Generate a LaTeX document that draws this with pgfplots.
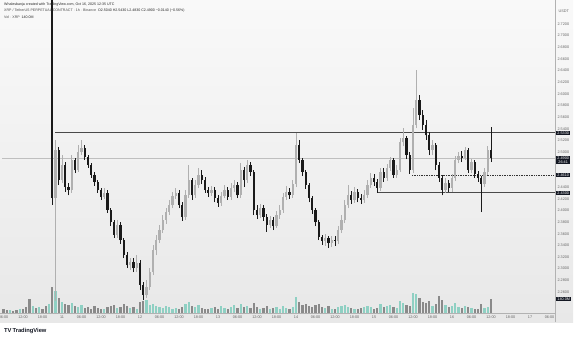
\documentclass[border=0pt]{standalone}
\usepackage{fontspec}
\setmainfont{Liberation Sans}
\usepackage{pgfplots}
\usepackage{pgfplotstable}
\pgfplotsset{compat=1.18}
\usetikzlibrary{backgrounds}
\definecolor{upc}{HTML}{B0B0B0}
\definecolor{dnc}{HTML}{1A1A1A}
\definecolor{vup}{HTML}{8FD0C3}
\definecolor{vdn}{HTML}{8A8A8A}
\definecolor{tvdark}{HTML}{131722}
\definecolor{lvl}{HTML}{4A4A4A}

\pgfplotstableread{
t o h l c v
6 2.850 2.856 2.842 2.846 40
7 2.846 2.852 2.838 2.842 30
8 2.842 2.850 2.836 2.848 35
9 2.848 2.853 2.839 2.840 25
10 2.840 2.846 2.830 2.835 30
11 2.835 2.844 2.829 2.841 45
12 2.841 2.845 2.825 2.828 40
13 2.828 2.834 2.812 2.818 60
14 2.818 2.822 2.790 2.800 140
15 2.800 2.815 2.795 2.810 70
16 2.810 2.818 2.800 2.805 50
17 2.805 2.812 2.796 2.808 60
18 2.808 2.812 2.795 2.799 45
19 2.799 2.804 2.780 2.786 70
20 2.786 2.800 2.770 2.795 90
21 2.795 2.800 2.410 2.421 260
22 2.421 2.521 2.245 2.504 220
23 2.504 2.509 2.444 2.452 150
24 2.452 2.495 2.447 2.478 110
25 2.478 2.483 2.432 2.440 90
26 2.440 2.447 2.426 2.435 80
27 2.435 2.495 2.430 2.487 100
28 2.487 2.490 2.464 2.469 70
29 2.469 2.512 2.466 2.500 60
30 2.500 2.521 2.495 2.507 80
31 2.507 2.512 2.487 2.492 50
32 2.492 2.495 2.473 2.478 60
33 2.478 2.481 2.456 2.461 40
34 2.461 2.466 2.442 2.449 70
35 2.449 2.452 2.430 2.435 50
36 2.435 2.439 2.418 2.423 40
37 2.423 2.439 2.420 2.430 45
38 2.430 2.435 2.396 2.401 60
39 2.401 2.404 2.373 2.380 70
40 2.380 2.384 2.353 2.358 80
41 2.358 2.384 2.353 2.375 50
42 2.375 2.380 2.342 2.349 60
43 2.349 2.353 2.318 2.323 90
44 2.323 2.329 2.301 2.306 70
45 2.306 2.318 2.298 2.311 50
46 2.311 2.318 2.294 2.301 60
47 2.301 2.323 2.294 2.310 45
48 2.310 2.315 2.263 2.272 110
49 2.272 2.277 2.246 2.255 120
50 2.255 2.281 2.250 2.269 130
51 2.269 2.301 2.263 2.294 80
52 2.294 2.341 2.289 2.332 90
53 2.332 2.358 2.323 2.349 70
54 2.349 2.375 2.344 2.366 60
55 2.366 2.392 2.361 2.384 50
56 2.384 2.404 2.377 2.397 70
57 2.397 2.418 2.392 2.409 60
58 2.409 2.432 2.404 2.425 45
59 2.425 2.439 2.420 2.430 50
60 2.430 2.435 2.404 2.409 40
61 2.409 2.414 2.382 2.389 60
62 2.389 2.435 2.384 2.426 90
63 2.426 2.478 2.421 2.452 110
64 2.452 2.456 2.418 2.426 70
65 2.426 2.452 2.421 2.444 60
66 2.444 2.473 2.439 2.461 80
67 2.461 2.469 2.445 2.452 50
68 2.452 2.457 2.430 2.435 45
69 2.435 2.440 2.423 2.430 40
70 2.430 2.442 2.425 2.435 50
71 2.435 2.440 2.414 2.421 60
72 2.421 2.426 2.406 2.413 45
73 2.413 2.432 2.408 2.425 70
74 2.425 2.444 2.421 2.435 50
75 2.435 2.440 2.418 2.423 40
76 2.423 2.447 2.418 2.439 60
77 2.439 2.452 2.432 2.444 80
78 2.444 2.449 2.421 2.426 50
79 2.426 2.481 2.421 2.469 90
80 2.469 2.475 2.440 2.452 60
81 2.452 2.487 2.447 2.478 70
82 2.478 2.483 2.459 2.466 50
83 2.466 2.469 2.392 2.401 100
84 2.401 2.409 2.385 2.392 60
85 2.392 2.411 2.387 2.404 45
86 2.404 2.409 2.382 2.389 50
87 2.389 2.394 2.363 2.375 70
88 2.375 2.390 2.370 2.384 40
89 2.384 2.389 2.366 2.373 50
90 2.373 2.399 2.370 2.392 60
91 2.392 2.409 2.385 2.401 45
92 2.401 2.430 2.396 2.423 70
93 2.423 2.442 2.418 2.432 50
94 2.432 2.439 2.420 2.426 40
95 2.426 2.452 2.421 2.445 60
96 2.445 2.533 2.440 2.512 160
97 2.512 2.521 2.481 2.487 110
98 2.487 2.490 2.459 2.466 80
99 2.466 2.469 2.437 2.444 90
100 2.444 2.447 2.414 2.421 70
101 2.421 2.425 2.394 2.401 60
102 2.401 2.404 2.373 2.380 80
103 2.380 2.384 2.349 2.354 90
104 2.354 2.358 2.341 2.348 60
105 2.348 2.360 2.339 2.353 50
106 2.353 2.356 2.336 2.344 70
107 2.344 2.356 2.337 2.349 45
108 2.349 2.356 2.339 2.348 40
109 2.348 2.373 2.342 2.366 60
110 2.366 2.392 2.361 2.384 70
111 2.384 2.418 2.378 2.409 80
112 2.409 2.444 2.404 2.426 60
113 2.426 2.433 2.411 2.418 50
114 2.418 2.440 2.413 2.432 45
115 2.432 2.437 2.414 2.421 40
116 2.421 2.428 2.411 2.418 50
117 2.418 2.435 2.413 2.426 60
118 2.426 2.452 2.421 2.444 70
119 2.444 2.464 2.439 2.456 60
120 2.456 2.462 2.442 2.449 40
121 2.449 2.454 2.430 2.439 50
122 2.439 2.473 2.433 2.466 90
123 2.466 2.473 2.449 2.456 60
124 2.456 2.480 2.451 2.473 70
125 2.473 2.492 2.468 2.487 80
126 2.487 2.490 2.456 2.461 60
127 2.461 2.478 2.456 2.469 50
128 2.469 2.524 2.466 2.517 120
129 2.517 2.541 2.510 2.524 100
130 2.524 2.528 2.488 2.495 80
131 2.495 2.500 2.463 2.469 70
132 2.469 2.576 2.464 2.547 200
133 2.547 2.641 2.541 2.590 190
134 2.590 2.598 2.555 2.564 150
135 2.564 2.572 2.538 2.547 110
136 2.547 2.555 2.521 2.529 100
137 2.529 2.535 2.495 2.504 120
138 2.504 2.521 2.495 2.512 70
139 2.512 2.516 2.469 2.478 90
140 2.478 2.483 2.449 2.456 170
141 2.456 2.461 2.426 2.435 130
142 2.435 2.456 2.430 2.447 80
143 2.447 2.452 2.432 2.439 60
144 2.439 2.462 2.432 2.456 70
145 2.456 2.494 2.451 2.487 100
146 2.487 2.500 2.481 2.494 60
147 2.494 2.502 2.483 2.490 50
148 2.490 2.509 2.487 2.504 70
149 2.504 2.507 2.464 2.469 60
150 2.469 2.488 2.464 2.483 50
151 2.483 2.487 2.456 2.463 45
152 2.463 2.468 2.449 2.456 40
153 2.456 2.459 2.397 2.445 90
154 2.445 2.473 2.440 2.466 50
155 2.466 2.511 2.461 2.504 60
156 2.504 2.543 2.483 2.490 140
}\candles

\newcommand{\tvs}{\fontsize{3.8}{4.4}\selectfont}

\begin{document}
\begin{tikzpicture}[x=1bp,y=1bp]

% volume
\begin{axis}[name=va, at={(0,0)}, anchor=south west, scale only axis,
  width=553bp, height=313bp, xmin=5.54, xmax=175.69, ymin=0, ymax=3130, hide axis]
\addplot[ycomb, draw=vdn, line width=2.3bp, mark=none,
  x filter/.expression={\thisrow{c}<\thisrow{o} ? x : nan}] table[x=t, y=v] {\candles};
\addplot[ycomb, draw=vup, line width=2.3bp, mark=none,
  x filter/.expression={\thisrow{c}>=\thisrow{o} ? x : nan}] table[x=t, y=v] {\candles};
\end{axis}

% price
\begin{axis}[name=pa, at={(va.south west)}, anchor=south west, scale only axis,
  width=553bp, height=313bp, xmin=5.54, xmax=175.69, ymin=2.2239, ymax=2.7612,
  axis line style={draw=none}, tick style={draw=none},
  /pgf/number format/assume math mode=true,
  ytick={2.26,2.28,2.30,2.32,2.34,2.36,2.38,2.40,2.42,2.44,2.50,2.52,2.54,2.56,2.58,2.60,2.62,2.64,2.66,2.68,2.70,2.72},
  yticklabel pos=right,
  yticklabel style={font=\tvs, text=black!60, /pgf/number format/fixed, /pgf/number format/fixed zerofill, /pgf/number format/precision=4, xshift=-1bp},
  xtick={6,12,...,174},
  xticklabels={06:00,12:00,18:00,11,06:00,12:00,18:00,12,06:00,12:00,18:00,13,06:00,12:00,18:00,14,06:00,12:00,18:00,15,06:00,12:00,18:00,16,06:00,12:00,18:00,17,06:00},
  xticklabel style={font=\tvs, text=black!60, yshift=0.5bp},
  clip mode=individual,
  candle/.style={draw=none, mark=none, forget plot}]
% levels
\addplot[draw=black!25, line width=0.5bp] coordinates {(5.54,2.490) (175.69,2.490)};
\addplot[draw=lvl, line width=1.1bp] coordinates {(21.85,2.533) (175.69,2.533)};
\addplot[draw=lvl, line width=1.1bp] coordinates {(120.9,2.430) (175.69,2.430)};
\addplot[draw=black!80, line width=0.7bp, densely dotted] coordinates {(131.7,2.461) (175.69,2.461)};
% wicks
\addplot[candle,
  x filter/.expression={\thisrow{c}>=\thisrow{o} ? x : nan},
  error bars/.cd, y dir=plus, y explicit, error mark=none,
  error bar style={line width=0.6bp, draw=upc}]
  table[x=t, y=l, y error expr=\thisrow{h}-\thisrow{l}] {\candles};
\addplot[candle,
  x filter/.expression={\thisrow{c}<\thisrow{o} ? x : nan},
  error bars/.cd, y dir=plus, y explicit, error mark=none,
  error bar style={line width=0.6bp, draw=dnc}]
  table[x=t, y=l, y error expr=\thisrow{h}-\thisrow{l}] {\candles};
% bodies
\addplot[candle,
  x filter/.expression={\thisrow{c}>=\thisrow{o} ? x : nan},
  error bars/.cd, y dir=plus, y explicit, error mark=none,
  error bar style={line width=2.3bp, draw=upc}]
  table[x=t, y=o, y error expr=\thisrow{c}-\thisrow{o}] {\candles};
\addplot[candle,
  x filter/.expression={\thisrow{c}<\thisrow{o} ? x : nan},
  error bars/.cd, y dir=plus, y explicit, error mark=none,
  error bar style={line width=2.3bp, draw=dnc}]
  table[x=t, y=c, y error expr=\thisrow{o}-\thisrow{c}] {\candles};
\end{axis}

\begin{scope}[shift={(pa.south west)}, shift={(-2,-26)}]
\begin{scope}[on background layer]
\fill[white] (0,0) rectangle (575,339);
\shade[top color={rgb,255:red,249;green,249;blue,249}, bottom color={rgb,255:red,232;green,232;blue,232}] (0,17) rectangle (573,339);
\end{scope}
% frame lines
\draw[black!30, line width=0.5bp] (0,26) -- (555,26);
\draw[black!30, line width=0.5bp] (555.5,17) -- (555.5,339);

% right axis boxes
\tikzset{pbox/.style={fill=tvdark, text=white, anchor=west, inner xsep=1.2bp, inner ysep=0.9bp, font=\tvs}}
\node[pbox] at (556,206.1) {2.5330};
\node[pbox, align=center] at (556,179) {2.4900\\[-0.6bp]26:41};
\node[pbox] at (556,164.2) {2.4610};
\node[pbox] at (556,146.1) {2.4300};
\node[pbox] at (556,40) {140.0M};
\node[font=\tvs, text=black!60, anchor=west, inner sep=0.5bp] at (558,328) {USDT};

% header
\node[font=\fontsize{3.6}{4.2}\selectfont, text=black!85, anchor=west, inner sep=0] at (4,334) {Whalesbanja created with TradingView.com, Oct 16, 2025 12:35 UTC};
\node[font=\fontsize{3.6}{4.2}\selectfont, text=black!70, anchor=west, inner sep=0] at (4,328) {XRP / TetherUS PERPETUAL CONTRACT · 1h · Binance \ \textcolor{black!85}{O2.5040 H2.5430 L2.4830 C2.4900 −0.0140 (−0.56\%)}};
\node[font=\fontsize{3.6}{4.2}\selectfont, text=black!70, anchor=west, inner sep=0] at (4,322) {Vol · XRP \ \textcolor{black!85}{140.0M}};

% logo
\node[font=\fontsize{5.8}{6.2}\selectfont\bfseries, text=tvdark, anchor=west, inner sep=0] at (4,8) {TV\,TradingView};

\pgfresetboundingbox
\path[use as bounding box] (0,0) rectangle (575,339);
\end{scope}
\end{tikzpicture}
\end{document}
